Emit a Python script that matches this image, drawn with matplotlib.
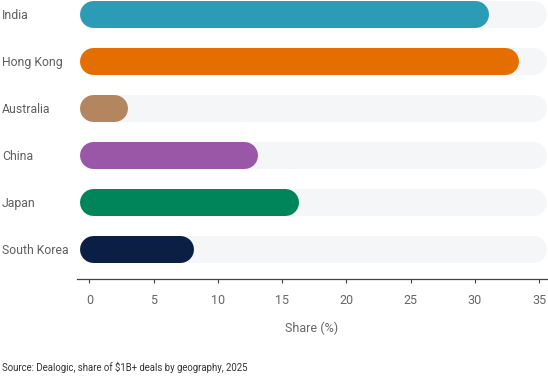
import matplotlib
matplotlib.use("Agg")
from matplotlib import pyplot as plt

# share of $1B+ deals by geography, 2025
countries = ["India", "Hong Kong", "Australia", "China", "Japan", "South Korea"]
shares = [31.1, 33.4, 3.0, 13.1, 16.3, 8.1]
colors = ["#2b9bb6", "#e46f00", "#b3865f", "#9b57a7", "#00845a", "#0b1f45"]
ticks = [0, 5, 10, 15, 20, 25, 30, 35]

W, H, DPI = 548, 378, 100
plt.rcParams["font.family"] = ["Roboto", "DejaVu Sans"]

fig = plt.figure(figsize=(W / DPI, H / DPI), dpi=DPI)
ax = fig.add_axes([77 / W, (H - 279) / H, (W - 77) / W, 279 / H])
ax.set_xlim(-0.97, 35.7)
ax.set_ylim(5.644, -0.287)

bar_px = 27
lw = bar_px * 72 / DPI
px_per_unit = (W - 77) / (35.7 + 0.97)
r = bar_px / 2 / px_per_unit  # cap radius in data units
start = -0.74
track_end = 35.55

for i, (v, c) in enumerate(zip(shares, colors)):
    ax.plot([start + r, track_end - r], [i, i], color="#f5f6f8", lw=lw,
            solid_capstyle="round", zorder=1)
    ax.plot([start + r, v - r], [i, i], color=c, lw=lw,
            solid_capstyle="round", zorder=2)

for s in ["top", "right", "left"]:
    ax.spines[s].set_visible(False)
ax.spines["bottom"].set_color("#444444")
ax.spines["bottom"].set_linewidth(0.9)

ax.set_xticks(ticks)
ax.set_xticklabels([str(t) for t in ticks])
ax.tick_params(axis="x", length=3, width=0.8, color="#444444", pad=8,
               labelsize=9, labelcolor="#666666")

ax.set_yticks(range(len(countries)))
ax.set_yticklabels(countries)
ax.tick_params(axis="y", length=0, pad=54, labelsize=8.8, labelcolor="#5f5f5f")
for lab in ax.get_yticklabels():
    lab.set_horizontalalignment("left")

fig.text(312 / W, 1 - 328 / H, "Share (%)", ha="center", va="center",
         fontsize=9, color="#666666")
fig.text(2 / W, 1 - 367 / H, "Source: Dealogic, share of $1B+ deals by geography, 2025",
         ha="left", va="center", fontsize=6.9, color="#333333")

fig.savefig("out.png", dpi=DPI)
